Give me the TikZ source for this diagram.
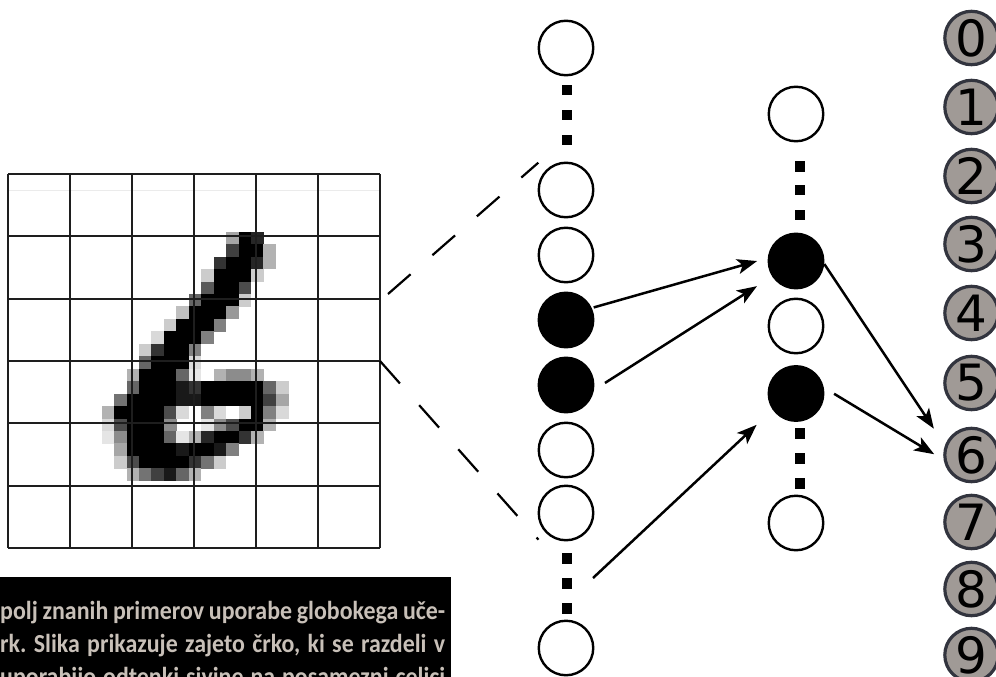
\documentclass[tikz,border=0pt]{standalone}
\usepackage{fontspec}
\usetikzlibrary{arrows.meta}
\newfontfamily\capfont{Carlito}[FakeStretch=0.92]
\newfontfamily\digitfont{DejaVu Sans}
\definecolor{captext}{RGB}{200,192,184}
\definecolor{outfill}{RGB}{160,154,150}
\definecolor{outedge}{RGB}{50,52,62}
\definecolor{gridink}{RGB}{30,30,30}
\frenchspacing

\begin{document}
\begin{tikzpicture}[x=1pt,y=-1pt,
  neuron/.style={circle,draw=black,line width=2.4pt,fill=white,minimum size=54.5pt,inner sep=0pt},
  active/.style={neuron,fill=black},
  dotsq/.style={rectangle,fill=black,minimum size=10.5pt,inner sep=0pt},
  outnode/.style={circle,draw=outedge,line width=3.2pt,fill=outfill,minimum size=53.4pt,inner sep=0pt,
    font=\digitfont\fontsize{50}{50}\selectfont},
  link/.style={line width=2.5pt,-{Stealth[length=20pt,width=15pt,inset=5pt]}},
  fieldline/.style={line width=2.2pt,dash pattern=on 30pt off 29pt},
  gridline/.style={draw=gridink,line width=2.2pt},
  captionline/.style={anchor=base west,inner sep=0pt,text=captext,
    font=\capfont\bfseries\fontsize{26}{26}\selectfont}]

\useasboundingbox (0,0) rectangle (996,677);
\clip (0,0) rectangle (996,677);

% ---- handwritten digit, 12.45pt pixels ----
\foreach \c/\r/\v in {
  18/5/35,19/5/100,20/5/85,
  18/6/75,19/6/100,20/6/100,21/6/30,
  17/7/80,18/7/100,19/7/100,20/7/85,21/7/30,
  16/8/20,17/8/100,18/8/100,19/8/100,20/8/20,
  16/9/65,17/9/100,18/9/100,19/9/70,
  15/10/60,16/10/100,17/10/100,18/10/100,19/10/20,
  14/11/25,15/11/100,16/11/100,17/11/100,18/11/40,
  13/12/20,14/12/100,15/12/100,16/12/100,17/12/50,
  12/13/15,13/13/100,14/13/100,15/13/100,16/13/50,
  11/14/20,12/14/80,13/14/100,14/14/100,15/14/50,
  11/15/60,12/15/100,13/15/100,14/15/100,15/15/15,
  10/16/30,11/16/100,12/16/100,13/16/100,14/16/60,15/16/10,17/16/30,18/16/45,19/16/45,20/16/30,
  10/17/60,11/17/100,12/17/100,13/17/100,14/17/90,15/17/80,16/17/100,17/17/100,18/17/100,19/17/100,20/17/100,21/17/60,22/17/20,
  9/18/55,10/18/100,11/18/100,12/18/100,13/18/100,14/18/90,15/18/90,16/18/100,17/18/100,18/18/100,19/18/100,20/18/100,21/18/75,22/18/35,
  8/19/30,9/19/100,10/19/100,11/19/100,12/19/100,13/19/70,14/19/15,16/19/50,17/19/15,19/19/20,20/19/100,21/19/50,22/19/15,
  8/20/15,9/20/70,10/20/100,11/20/100,12/20/100,13/20/45,16/20/10,17/20/45,18/20/70,19/20/100,20/20/100,21/20/30,
  8/21/10,9/21/45,10/21/100,11/21/100,12/21/100,13/21/60,14/21/10,15/21/30,16/21/85,17/21/100,18/21/100,19/21/80,20/21/30,
  9/22/35,10/22/100,11/22/100,12/22/100,13/22/100,14/22/90,15/22/100,16/22/100,17/22/90,18/22/50,
  9/23/20,10/23/70,11/23/100,12/23/100,13/23/100,14/23/100,15/23/80,16/23/55,17/23/20,
  10/24/30,11/24/55,12/24/75,13/24/90,14/24/60,15/24/30}
  \fill[black!\v] (2+12.45*\c,169.5+12.45*\r) rectangle ++(12.65,12.65);

% ---- 6x6 grid over the digit ----
\draw[black!8,line width=1pt] (8,190) -- (380,190);
\foreach \k in {0,...,6} {
  \draw[gridline] (8+62*\k,174) -- (8+62*\k,548);
  \draw[gridline] (8,174+62.33*\k) -- (380,174+62.33*\k);
}
\coordinate (gu) at (388,294);
\coordinate (gue) at (538.3,162.7);
\coordinate (gl) at (380,361);
\coordinate (gle) at (538.5,539.7);

% ---- first layer ----
\node[neuron] (l1) at (566,48) {};
\node[dotsq] (la1) at (567,90) {};
\node[dotsq] (la2) at (567,115) {};
\node[dotsq] (la3) at (567,140) {};
\node[neuron] (l2) at (566,190) {};
\node[neuron] (l3) at (566,255) {};
\node[active] (l4) at (566,320) {};
\node[active] (l5) at (566,385) {};
\node[neuron] (l6) at (566,450) {};
\node[neuron] (l7) at (566,513) {};
\node[dotsq] (lb1) at (567,558.5) {};
\node[dotsq] (lb2) at (567,583.5) {};
\node[dotsq] (lb3) at (567,608.5) {};
\node[neuron] (l8) at (566,648) {};
\coordinate (lfoot) at (593,578);

% ---- second layer ----
\node[neuron] (m1) at (796,114) {};
\node[dotsq] (ma1) at (800,166.7) {};
\node[dotsq] (ma2) at (800,190) {};
\node[dotsq] (ma3) at (800,215) {};
\node[active] (m2) at (796,261) {};
\node[neuron] (m3) at (796,326) {};
\node[active] (m4) at (796,393.5) {};
\node[dotsq] (mb1) at (800,433.3) {};
\node[dotsq] (mb2) at (800,458.3) {};
\node[dotsq] (mb3) at (800,483.3) {};
\node[neuron] (m5) at (796,523) {};

% ---- output digits ----
\foreach \d/\y in {0/38,1/107,2/176,3/244,4/313,5/383,6/455,7/522,8/589,9/655}
  \node[outnode] (d\d) at (971.5,\y) {\d};

% ---- receptive field ----
\draw[fieldline] (gu) -- (gue);
\draw[fieldline] (gl) -- (gle);

% ---- connections ----
\draw[link,shorten <=2pt,shorten >=11pt] (l4.25) -- (m2.174);
\draw[link,shorten <=13pt,shorten >=18pt] (l5.-10) -- (m2.213);
\draw[link,shorten >=22pt] (lfoot) -- (m4.215);
\draw[link,shorten >=20pt] (m2.-6) -- (d6.160);
\draw[link,shorten <=12pt,shorten >=11pt] (m4.12) -- (d6.190);

% ---- caption panel ----
\fill[black] (0,577) rectangle (451,680);
\node[captionline] (c1) at (0,619) {\makebox[445pt][s]{polj znanih primerov uporabe globokega uče-}};
\node[captionline] (c2) at (0,652) {\makebox[445pt][s]{rk. Slika prikazuje zajeto črko, ki se razdeli v}};
\node[captionline] (c3) at (0,685) {\makebox[445pt][s]{uporabijo odtenki sivine na posamezni celici}};
\end{tikzpicture}
\end{document}
